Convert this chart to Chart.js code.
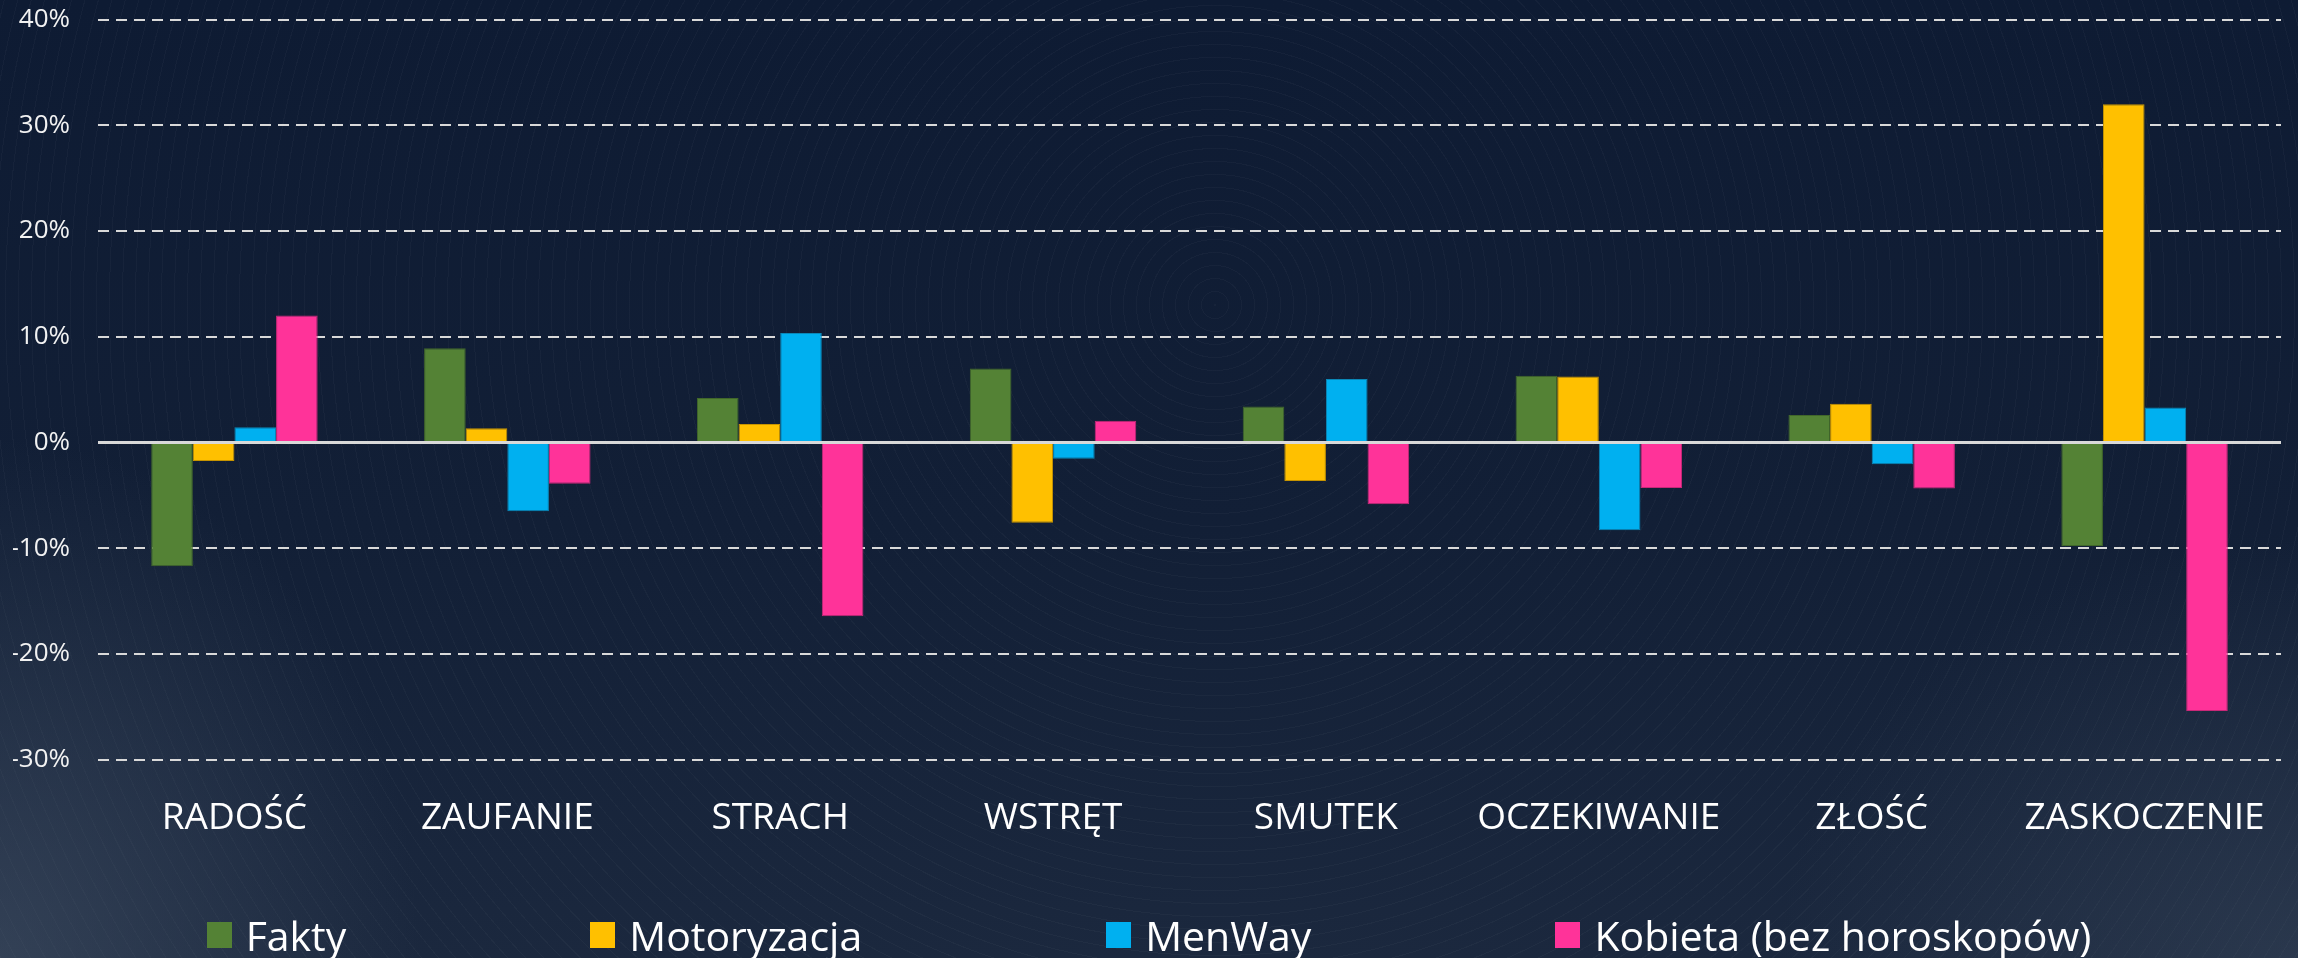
<!DOCTYPE html>
<html lang="pl">
<head>
<meta charset="utf-8">
<title>Emocje</title>
<script src="https://cdn.jsdelivr.net/npm/chart.js@4"></script>
<style>
  html, body { margin: 0; padding: 0; }
  body {
    width: 2298px; height: 958px; overflow: hidden; position: relative;
    font-family: "Open Sans", sans-serif;
    background:
      radial-gradient(ellipse 420px 520px at 0% 100%, rgba(80,95,115,0.45), rgba(0,0,0,0) 100%),
      radial-gradient(ellipse 520px 420px at 100% 100%, rgba(70,85,105,0.35), rgba(0,0,0,0) 100%),
      repeating-radial-gradient(circle at 1215px 305px, rgba(255,255,255,0.028) 0 1px, rgba(0,0,0,0) 1px 13px),
      linear-gradient(180deg, #0e1b33 0%, #121f36 55%, #1b283e 100%);
  }
  #wrap { position: absolute; left: 0; top: 0; width: 2298px; height: 958px; }
  #legend {
    position: absolute; left: 0; right: 0; top: 906px; height: 58px;
    display: flex; justify-content: center; align-items: center; gap: 244px;
    color: #fff; font-size: 41px; line-height: 1;
  }
  #legend .item { display: flex; align-items: center; white-space: nowrap; }
  #legend .box { width: 25px; height: 26px; margin-right: 14px; }
</style>
</head>
<body>
<div id="wrap"><canvas id="chart"></canvas></div>
<div id="legend"></div>
<script>
const categories = ['RADOŚĆ', 'ZAUFANIE', 'STRACH', 'WSTRĘT', 'SMUTEK', 'OCZEKIWANIE', 'ZŁOŚĆ', 'ZASKOCZENIE'];

const seriesNames = ['Fakty', 'Motoryzacja', 'MenWay', 'Kobieta (bez horoskopów)'];

// wartości w %
const fakty       = [-11.7,  8.9,   4.2,  7.0,  3.4,  6.3,  2.6,  -9.8];
const motoryzacja = [-1.75,  1.35,  1.75, -7.6, -3.65, 6.25, 3.65, 32.0];
const menway      = [ 1.45, -6.5,  10.35, -1.55, 6.0, -8.3, -2.05,  3.3];
const kobieta     = [12.0,  -3.9, -16.45,  2.05, -5.85, -4.3, -4.35, -25.4];

const yTicks = [-30, -20, -10, 0, 10, 20, 30, 40];

const colors  = ['#548235', '#ffc000', '#00b0f0', '#ff3399'];
const borders = ['#41672a', '#c79400', '#0a88b8', '#c92878'];

const values = [fakty, motoryzacja, menway, kobieta];

// linia zera na wierzchu słupków
const zeroLine = {
  id: 'zeroLine',
  afterDatasetsDraw(chart) {
    const { ctx, chartArea, scales } = chart;
    const y = scales.y.getPixelForValue(0);
    ctx.save();
    ctx.strokeStyle = '#d9d9d9';
    ctx.lineWidth = 3;
    ctx.beginPath();
    ctx.moveTo(chartArea.left, y);
    ctx.lineTo(chartArea.right, y);
    ctx.stroke();
    ctx.restore();
  }
};

const el = document.getElementById('chart');
const chart = new Chart(el.getContext('2d'), {
  type: 'bar',
  data: {
    labels: categories,
    datasets: seriesNames.map((name, i) => ({
      label: name,
      data: values[i],
      backgroundColor: colors[i],
      borderColor: borders[i],
      borderWidth: 1,
      categoryPercentage: 0.61,
      barPercentage: 1
    }))
  },
  options: {
    responsive: true,
    maintainAspectRatio: false,
    animation: false,
    layout: { padding: { top: 0, left: 13, right: 17, bottom: 88 } },
    plugins: {
      legend: { display: false },
      tooltip: { enabled: false }
    },
    scales: {
      x: {
        grid: { display: false },
        border: { display: false },
        ticks: {
          color: '#ffffff',
          padding: 29,
          maxRotation: 0,
          autoSkip: false,
          font: { family: 'Open Sans', size: 37 }
        }
      },
      y: {
        min: yTicks[0],
        max: yTicks[yTicks.length - 1],
        afterBuildTicks: (scale) => { scale.ticks = yTicks.map(v => ({ value: v })); },
        afterFit: (scale) => { scale.width = 85; },
        grid: {
          color: (ctx) => ctx.tick && ctx.tick.value === 0 ? 'rgba(0,0,0,0)' : '#d9d9d9',
          lineWidth: 2,
          // niewidoczne kreski - odsuwają tylko etykiety od osi
          drawTicks: true,
          tickLength: 24,
          tickColor: 'rgba(0,0,0,0)'
        },
        border: { display: false, dash: [11, 7] },
        ticks: {
          color: '#f2f2f2',
          padding: 4,
          font: { family: 'Open Sans', size: 26 },
          callback: (v) => v + '%'
        }
      }
    }
  },
  plugins: [zeroLine]
});

// legenda
const legendEl = document.getElementById('legend');
seriesNames.forEach((name, i) => {
  const item = document.createElement('div');
  item.className = 'item';
  const box = document.createElement('span');
  box.className = 'box';
  box.style.background = colors[i];
  const txt = document.createElement('span');
  txt.textContent = name;
  item.appendChild(box);
  item.appendChild(txt);
  legendEl.appendChild(item);
});
</script>
</body>
</html>
